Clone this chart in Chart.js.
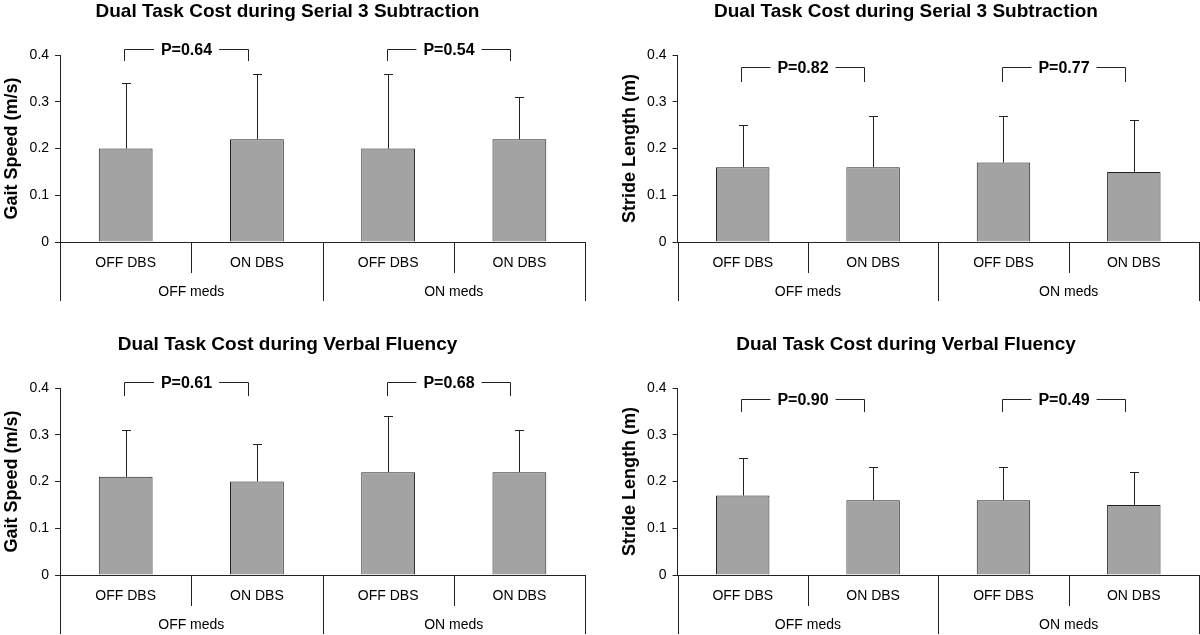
<!DOCTYPE html>
<html>
<head>
<meta charset="utf-8">
<script src="https://cdn.jsdelivr.net/npm/chart.js@4.4.1/dist/chart.umd.min.js"></script>
<style>
  body { margin: 0; width: 1200px; height: 635px; background: #fff; position: relative; overflow: hidden; }
  canvas { position: absolute; }
</style>
</head>
<body>
<canvas id="c1" width="600" height="302" style="left:-13px;top:0px"></canvas>
<canvas id="c2" width="600" height="302" style="left:606px;top:0px"></canvas>
<canvas id="c3" width="600" height="302" style="left:-13px;top:333px"></canvas>
<canvas id="c4" width="600" height="302" style="left:606px;top:333px"></canvas>
<script>
const dbsLabels = ['OFF DBS', 'ON DBS', 'OFF DBS', 'ON DBS'];
const medsLabels = ['OFF meds', 'ON meds'];
const yTicks = [0, 0.1, 0.2, 0.3, 0.4];

// means and top of error bars (mean + SD)
const gaitSerial = [0.20, 0.22, 0.20, 0.22];
const gaitSerialErr = [0.34, 0.36, 0.36, 0.31];
const strideSerial = [0.16, 0.16, 0.17, 0.15];
const strideSerialErr = [0.25, 0.27, 0.27, 0.26];
const gaitVerbal = [0.21, 0.20, 0.22, 0.22];
const gaitVerbalErr = [0.31, 0.28, 0.34, 0.31];
const strideVerbal = [0.17, 0.16, 0.16, 0.15];
const strideVerbalErr = [0.25, 0.23, 0.23, 0.22];

const pSerialGait = ['P=0.64', 'P=0.54'];
const pSerialStride = ['P=0.82', 'P=0.77'];
const pVerbalGait = ['P=0.61', 'P=0.68'];
const pVerbalStride = ['P=0.90', 'P=0.49'];

const FONT = "'Liberation Sans', Arial, Helvetica, sans-serif";
const INK = '#222';

const errorBars = {
  id: 'errorBars',
  afterDatasetsDraw(chart) {
    const ctx = chart.ctx;
    const y = chart.scales.y;
    const err = chart.options.plugins.errorBars.tops;
    chart.getDatasetMeta(0).data.forEach((bar, i) => {
      const top = Math.round(y.getPixelForValue(err[i])) + 0.5;
      const bx = Math.round(bar.x) + 0.5;
      ctx.save();
      ctx.strokeStyle = INK;
      ctx.lineWidth = 1;
      ctx.beginPath();
      ctx.moveTo(bx, bar.y);
      ctx.lineTo(bx, top);
      ctx.moveTo(bx - 4.5, top);
      ctx.lineTo(bx + 4.5, top);
      ctx.stroke();
      ctx.restore();
    });
  }
};

// vertical separators of the two-level category axis
const separators = {
  id: 'separators',
  afterDraw(chart) {
    const ctx = chart.ctx;
    const x = chart.scales.x;
    ctx.save();
    ctx.strokeStyle = INK;
    ctx.lineWidth = 1;
    ctx.beginPath();
    for (let k = 0; k <= dbsLabels.length; k++) {
      const px = Math.round(x.getPixelForValue(k - 0.5)) + 0.5;
      const len = k % 2 === 0 ? 59 : 31;
      ctx.moveTo(px, x.top);
      ctx.lineTo(px, x.top + len);
    }
    ctx.stroke();
    ctx.restore();
  }
};

const brackets = {
  id: 'brackets',
  afterDraw(chart) {
    const o = chart.options.plugins.brackets;
    const ctx = chart.ctx;
    const x = chart.scales.x, y = chart.scales.y;
    const yTop = Math.round(y.getPixelForValue(o.top)) + 0.5;
    const yLeg = Math.round(y.getPixelForValue(o.leg));
    o.texts.forEach((t, k) => {
      const i = k * 2;
      const x1 = Math.round(x.getPixelForValue(i - 0.01)) + 0.5;
      const x2 = Math.round(x.getPixelForValue(i + 0.93)) + 0.5;
      ctx.save();
      ctx.strokeStyle = INK;
      ctx.lineWidth = 1;
      ctx.beginPath();
      ctx.moveTo(x1, yLeg);
      ctx.lineTo(x1, yTop);
      ctx.lineTo(x2, yTop);
      ctx.lineTo(x2, yLeg);
      ctx.stroke();
      ctx.font = 'bold 16px ' + FONT;
      const w = ctx.measureText(t).width;
      const cx = (x1 + x2) / 2;
      ctx.fillStyle = '#fff';
      ctx.fillRect(cx - w / 2 - 7, yTop - 9, w + 14, 18);
      ctx.fillStyle = '#000';
      ctx.textAlign = 'center';
      ctx.textBaseline = 'middle';
      ctx.fillText(t, cx, yTop + 1);
      ctx.restore();
    });
  }
};

function makeChart(id, title, yTitle, values, tops, pTexts, bracketTop, bracketLeg, pad) {
  new Chart(document.getElementById(id), {
    type: 'bar',
    data: {
      labels: dbsLabels,
      datasets: [{
        data: values,
        backgroundColor: '#a3a3a3',
        borderColor: INK,
        borderWidth: 1,
        categoryPercentage: 1,
        barPercentage: 0.41
      }]
    },
    options: {
      responsive: false,
      animation: false,
      devicePixelRatio: 1,
      layout: { padding: { left: pad.left, right: pad.right, top: 0, bottom: 1.2 } },
      plugins: {
        legend: { display: false },
        tooltip: { enabled: false },
        title: {
          display: true,
          text: title,
          color: '#000',
          font: { family: FONT, size: 19, weight: 'bold' },
          padding: { top: 0.6, bottom: 31.6 }
        },
        errorBars: { tops: tops },
        brackets: { texts: pTexts, top: bracketTop, leg: bracketLeg }
      },
      scales: {
        x: {
          offset: true,
          grid: { offset: true, drawOnChartArea: false, drawTicks: false, color: INK },
          border: { color: INK },
          ticks: { color: '#000', font: { family: FONT, size: 14 }, padding: 12.6, maxRotation: 0 }
        },
        x2: {
          type: 'category',
          position: 'bottom',
          labels: medsLabels,
          offset: true,
          grid: { offset: true, drawOnChartArea: false, drawTicks: false },
          border: { display: false },
          ticks: { color: '#000', font: { family: FONT, size: 14 }, padding: 0, maxRotation: 0 }
        },
        y: {
          min: 0,
          max: 0.4,
          afterBuildTicks: (s) => { s.ticks = yTicks.map(v => ({ value: v })); },
          grid: { drawOnChartArea: false, color: INK, tickLength: 5 },
          border: { color: INK },
          ticks: { color: '#000', font: { family: FONT, size: 14 }, padding: 6 },
          title: {
            display: true,
            text: yTitle,
            color: '#000',
            font: { family: FONT, size: 18, weight: 'bold' },
            padding: { top: pad.titleTop, bottom: pad.titleBottom }
          }
        }
      }
    },
    plugins: [errorBars, separators, brackets]
  });
}

const leftPad = { left: 3, right: 2, titleTop: 11.5, titleBottom: 0.5 };
const rightPad = { left: 7, right: 7, titleTop: 6.5, titleBottom: 0 };

makeChart('c1', 'Dual Task Cost during Serial 3 Subtraction', 'Gait Speed (m/s)',
  gaitSerial, gaitSerialErr, pSerialGait, 0.413, 0.387, leftPad);
makeChart('c2', 'Dual Task Cost during Serial 3 Subtraction', 'Stride Length (m)',
  strideSerial, strideSerialErr, pSerialStride, 0.374, 0.342, rightPad);
makeChart('c3', 'Dual Task Cost during Verbal Fluency', 'Gait Speed (m/s)',
  gaitVerbal, gaitVerbalErr, pVerbalGait, 0.413, 0.383, leftPad);
makeChart('c4', 'Dual Task Cost during Verbal Fluency', 'Stride Length (m)',
  strideVerbal, strideVerbalErr, pVerbalStride, 0.376, 0.349, rightPad);
</script>
</body>
</html>
